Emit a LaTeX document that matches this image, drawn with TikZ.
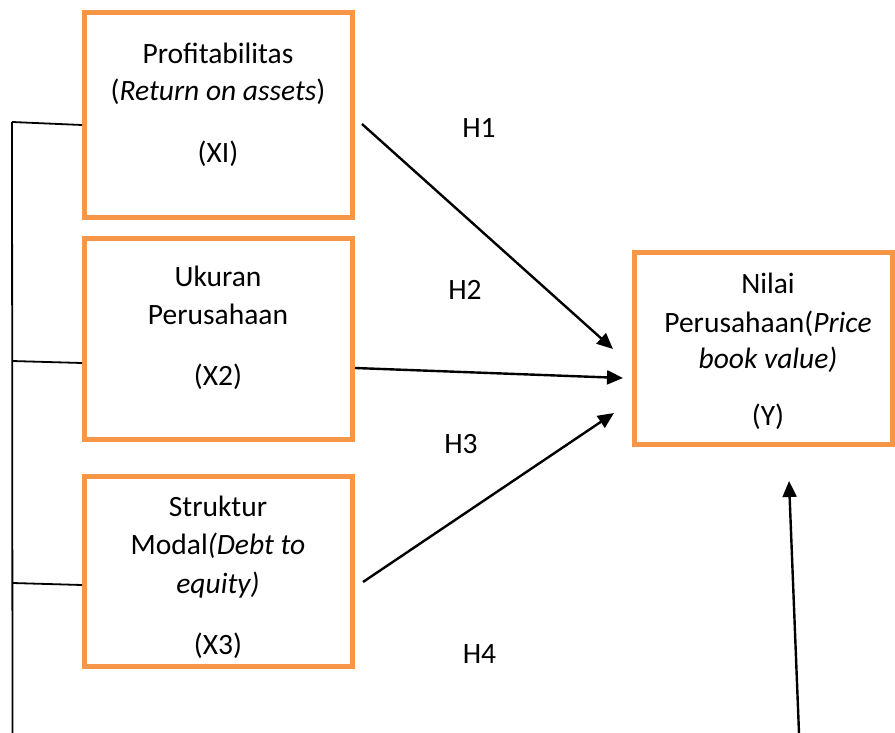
\documentclass[tikz,border=0pt]{standalone}
\usepackage{fontspec}
\setmainfont{Carlito}
\usetikzlibrary{arrows.meta}
\definecolor{boxorange}{HTML}{F79646}
\begin{document}
\begin{tikzpicture}[x=1pt,y=-1pt,
  varbox/.style={draw=boxorange,line width=5pt,fill=white,inner sep=0pt,anchor=north west},
  txt/.style={anchor=base,inner sep=0pt,font=\fontsize{29.5}{39}\selectfont},
  arr/.style={line width=2.4pt,-{Triangle[length=16pt,width=14pt]}},
  link/.style={line width=1.8pt}]
\useasboundingbox (0,0) rectangle (895,733);
% boxes (anchor = outer corner)
\node[varbox,minimum width=267.5pt,minimum height=205.5pt] (x1) at (82,10) {};
\node[varbox,minimum width=267.5pt,minimum height=201pt] (x2) at (82,236) {};
\node[varbox,minimum width=267.5pt,minimum height=190pt] (x3) at (82,474) {};
\node[varbox,minimum width=258pt,minimum height=192pt] (y) at (632,250) {};
% texts X1
\node[txt] (t11) at (218,64) {Profitabilitas};
\node[txt] (t12) at (218,101) {(\textit{Return on assets})};
\node[txt] (t13) at (218,163) {(XI)};
% texts X2
\node[txt] (t21) at (218,286) {Ukuran};
\node[txt] (t22) at (218,324) {Perusahaan};
\node[txt] (t23) at (218,385) {(X2)};
% texts X3
\node[txt] (t31) at (218,516) {Struktur};
\node[txt] (t32) at (218,554) {Modal\textit{(Debt to}};
\node[txt] (t33) at (218,593) {\textit{equity)}};
\node[txt] (t34) at (218,654) {(X3)};
% texts Y
\node[txt] (ty1) at (768,293) {Nilai};
\node[txt] (ty2) at (768,332) {Perusahaan(\textit{Price}};
\node[txt] (ty3) at (768,368) {\textit{book value)}};
\node[txt] (ty4) at (768,425) {(Y)};
% hypothesis labels
\node[txt] (h1) at (479,138) {H1};
\node[txt] (h2) at (465,299) {H2};
\node[txt] (h3) at (461,453) {H3};
\node[txt] (h4) at (479.5,663) {H4};
% coordinates
\coordinate (a1s) at (362,124);
\coordinate (a1e) at (613,349);
\coordinate (a2s) at (355,368);
\coordinate (a2e) at (623,378);
\coordinate (a3s) at (363,582);
\coordinate (a3e) at (614,413);
\coordinate (a4s) at (799,733);
\coordinate (a4e) at (789,481);
\coordinate (vtop) at (12,122);
\coordinate (vbot) at (12.5,733);
\coordinate (l1) at (12,122);
\coordinate (l2) at (12,361);
\coordinate (l3) at (12.5,583);
% arrows
\draw[arr] (a1s) -- (a1e);
\draw[arr] (a2s) -- (a2e);
\draw[arr] (a3s) -- (a3e);
\draw[arr] (a4s) -- (a4e);
% left bracket
\draw[link] (vtop) -- (vbot);
\draw[link] (l1) -- (x1.west |- 0,125);
\draw[link] (l2) -- (x2.west |- 0,363);
\draw[link] (l3) -- (x3.west |- 0,585);
\end{tikzpicture}
\end{document}
